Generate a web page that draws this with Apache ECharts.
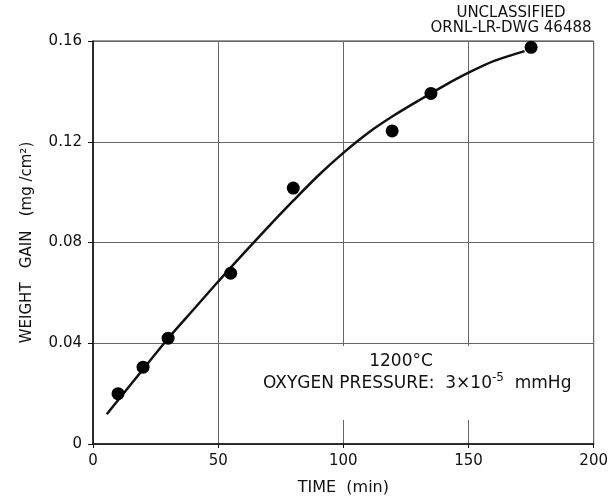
<!DOCTYPE html>
<html>
<head>
<meta charset="utf-8">
<script src="https://cdn.jsdelivr.net/npm/echarts@6/dist/echarts.min.js"></script>
<style>html,body{margin:0;padding:0;background:#fff;}#c{width:611px;height:501px;}</style>
</head>
<body>
<div id="c"></div>
<script>
// Measured points
const timeMin = [10, 20, 30, 55, 80, 119.5, 135, 175];
const weightGain = [0.0200, 0.0305, 0.0420, 0.0678, 0.1016, 0.1243, 0.1392, 0.1575];
// Fitted curve
const curveTime = [5.5, 10, 20, 30, 40, 50, 60, 70, 80, 90, 100, 110, 120, 130, 140, 150, 160, 172.4];
const curveGain = [0.0118, 0.0174, 0.0297, 0.0419, 0.0532, 0.0645, 0.0755, 0.0862, 0.0966, 0.1066, 0.1156, 0.1236, 0.1303, 0.1363, 0.1421, 0.1474, 0.1520, 0.1560];
const xTicks = [0, 50, 100, 150, 200];
const yTicks = [0, 0.04, 0.08, 0.12, 0.16];
const yTickLabels = ['0', '0.04', '0.08', '0.12', '0.16'];

const font = 'DejaVu Sans';
const chart = echarts.init(document.getElementById('c'), null, {renderer: 'canvas'});
chart.setOption({
  animation: false,
  backgroundColor: '#fff',
  grid: {left: 93, right: 17, top: 41, bottom: 57, show: true, borderColor: '#333', borderWidth: 1},
  xAxis: {
    type: 'value', min: xTicks[0], max: xTicks[xTicks.length - 1], interval: 50,
    name: 'TIME  (min)', nameLocation: 'middle', nameGap: 36,
    nameTextStyle: {fontFamily: font, fontSize: 16, color: '#111'},
    axisLine: {show: true, lineStyle: {color: '#111', width: 1.5}},
    axisTick: {show: true, length: 4, lineStyle: {color: '#111'}},
    axisLabel: {fontFamily: font, fontSize: 15, color: '#111', margin: 10,
      formatter: v => xTicks.includes(v) ? String(v) : ''},
    splitLine: {show: true, lineStyle: {color: '#666', width: 1}}
  },
  yAxis: {
    type: 'value', min: yTicks[0], max: yTicks[yTicks.length - 1], interval: 0.04,
    name: 'WEIGHT   GAIN   (mg /cm²)', nameLocation: 'middle', nameGap: 58, nameRotate: 90,
    nameTextStyle: {fontFamily: font, fontSize: 15, color: '#111'},
    axisLine: {show: true, lineStyle: {color: '#111', width: 1.5}},
    axisTick: {show: true, length: 5, lineStyle: {color: '#111'}},
    axisLabel: {fontFamily: font, fontSize: 15, color: '#111', margin: 11,
      formatter: v => { const i = yTicks.findIndex(t => Math.abs(t - v) < 1e-9); return i >= 0 ? yTickLabels[i] : ''; }},
    splitLine: {show: true, lineStyle: {color: '#666', width: 1}}
  },
  graphic: [
    {type: 'rect', shape: {x: 256, y: 346, width: 325, height: 74}, style: {fill: '#fff'}, z: 1, silent: true},
    {type: 'text', x: 401, y: 362, z: 3, style: {text: '1200°C', font: '17px "DejaVu Sans"', fill: '#111', align: 'center', verticalAlign: 'middle'}},
    {type: 'text', x: 263, y: 384, z: 3, style: {
      text: 'OXYGEN PRESSURE:  3×10{sup|-5}  mmHg',
      font: '17px "DejaVu Sans"', fill: '#111', align: 'left', verticalAlign: 'middle',
      rich: {sup: {fontFamily: font, fontSize: 12, fill: '#111', verticalAlign: 'bottom', padding: [0, 0, 12, 0]}}
    }},
    {type: 'text', x: 511, y: 13, z: 3, style: {text: 'UNCLASSIFIED', font: '15px "DejaVu Sans"', fill: '#111', align: 'center', verticalAlign: 'middle'}},
    {type: 'text', x: 511, y: 28, z: 3, style: {text: 'ORNL-LR-DWG 46488', font: '15px "DejaVu Sans"', fill: '#111', align: 'center', verticalAlign: 'middle'}}
  ],
  series: [
    {type: 'line', data: curveTime.map((t, i) => [t, curveGain[i]]), smooth: 0.3, showSymbol: false,
      lineStyle: {color: '#111', width: 2.5}, z: 4},
    {type: 'scatter', data: timeMin.map((t, i) => [t, weightGain[i]]), symbol: 'circle', symbolSize: 13,
      itemStyle: {color: '#000', opacity: 1}, z: 5}
  ]
});
</script>
</body>
</html>
